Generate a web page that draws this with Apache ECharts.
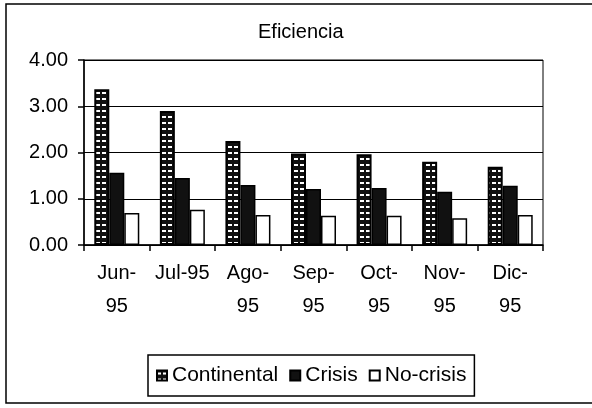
<!DOCTYPE html>
<html>
<head>
<meta charset="UTF-8" />
<title>Eficiencia</title>
<script src="https://cdn.jsdelivr.net/npm/echarts@6/dist/echarts.min.js"></script>
<style>
  html, body { margin: 0; padding: 0; background: #fff; }
</style>
</head>
<body>
<div id="main" style="width: 592px;height:408px;"></div>
<script type="text/javascript">

    // meses (etiquetas del eje x)
    var meses = ['Jun-\n95', 'Jul-95', 'Ago-\n95', 'Sep-\n95', 'Oct-\n95', 'Nov-\n95', 'Dic-\n95'];

    // valores
    var continental = [3.37, 2.90, 2.25, 1.98, 1.96, 1.80, 1.69];
    var crisis      = [1.56, 1.45, 1.30, 1.21, 1.23, 1.15, 1.28];
    var noCrisis    = [0.69, 0.76, 0.65, 0.63, 0.63, 0.58, 0.65];

    // ticks del eje y
    var yTicks = [0, 1, 2, 3, 4];

    var fuente = "'Liberation Sans', Arial, sans-serif";

    // trama de la serie Continental: negro con rayitas blancas
    function tramaContinental() {
        var c = document.createElement('canvas');
        c.width = 6;
        c.height = 6;
        var ctx = c.getContext('2d');
        ctx.fillStyle = '#111';
        ctx.fillRect(0, 0, 6, 6);
        ctx.fillStyle = '#fff';
        ctx.fillRect(0, 2, 4, 2);
        return c;
    }

    var chart = echarts.init(document.getElementById('main'));

    var option = {
        animation: false,
        backgroundColor: '#fff',
        title: {
            text: 'Eficiencia',
            left: 253,
            top: 17,
            textStyle: { fontFamily: fuente, fontSize: 20, fontWeight: 'normal', color: '#000' }
        },
        legend: {
            left: 148,
            top: 355,
            padding: [10, 8],
            itemGap: 11,
            itemWidth: 10,
            itemHeight: 10,
            borderColor: '#000',
            borderWidth: 1.5,
            icon: 'rect',
            textStyle: { fontFamily: fuente, fontSize: 21, color: '#000' },
            data: ['Continental', 'Crisis', 'No-crisis']
        },
        grid: {
            left: 84,
            right: 49,
            top: 60,
            bottom: 163,
            show: true,
            borderColor: '#000',
            borderWidth: 1
        },
        graphic: [{
            type: 'rect',
            shape: { x: 6, y: 4, width: 620, height: 399 },
            style: { fill: null, stroke: '#000', lineWidth: 1.5 },
            silent: true
        }],
        xAxis: {
            type: 'category',
            data: meses,
            axisLine: { lineStyle: { color: '#000', width: 1.5 } },
            axisTick: { show: true, length: 6, lineStyle: { color: '#000', width: 1.5 } },
            axisLabel: {
                interval: 0,
                margin: 12,
                fontFamily: fuente,
                fontSize: 20,
                lineHeight: 33,
                color: '#000'
            }
        },
        yAxis: {
            type: 'value',
            min: yTicks[0],
            max: yTicks[yTicks.length - 1],
            interval: 1,
            axisLine: { show: true, lineStyle: { color: '#000', width: 1.5 } },
            axisTick: { show: true, length: 6, lineStyle: { color: '#000', width: 1.5 } },
            splitLine: { lineStyle: { color: '#000', width: 1 } },
            axisLabel: {
                margin: 16,
                fontFamily: fuente,
                fontSize: 20,
                color: '#000',
                formatter: function (v) { return v.toFixed(2); }
            }
        },
        series: [{
            name: 'Continental',
            type: 'bar',
            data: continental,
            barWidth: 15,
            barGap: '0%',
            itemStyle: {
                color: { image: tramaContinental(), repeat: 'repeat' },
                borderColor: '#000',
                borderWidth: 2
            }
        }, {
            name: 'Crisis',
            type: 'bar',
            data: crisis,
            barWidth: 15,
            barGap: '0%',
            itemStyle: { color: '#111', borderColor: '#000', borderWidth: 1.5 }
        }, {
            name: 'No-crisis',
            type: 'bar',
            data: noCrisis,
            barWidth: 15,
            barGap: '0%',
            itemStyle: { color: '#fff', borderColor: '#000', borderWidth: 1.5 }
        }]
    };

    chart.setOption(option);
</script>
</body>
</html>
